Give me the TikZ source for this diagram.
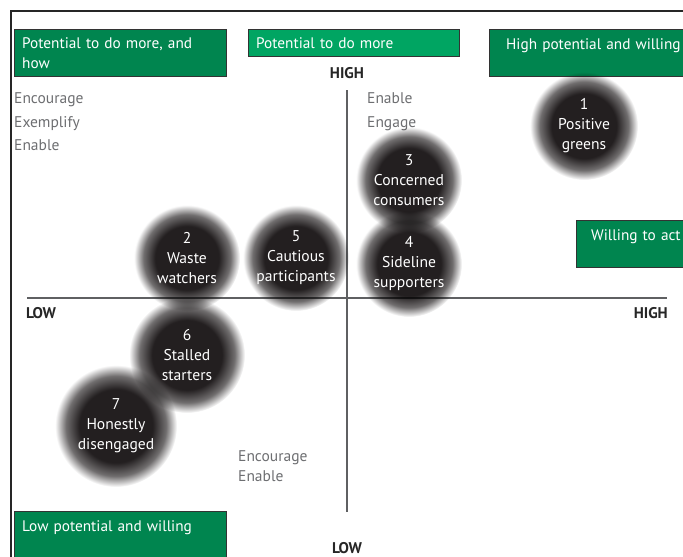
\documentclass[tikz,border=0pt]{standalone}
\usepackage{fontspec}
\setmainfont{PT Sans}
\usetikzlibrary{positioning}

\definecolor{boxgreen}{HTML}{00854F}
\definecolor{lightgreen}{HTML}{00A562}
\definecolor{balldark}{HTML}{231F20}
\definecolor{axisgrey}{HTML}{5F6062}
\definecolor{hintgrey}{HTML}{6D6E71}

\pgfdeclareradialshading{ballshade}{\pgfpointorigin}{color(0bp)=(balldark); color(15bp)=(balldark); color(20.5bp)=(balldark!65); color(25bp)=(white); color(50bp)=(white)}

\tikzset{
  quadbox/.style={draw=black!80, fill=boxgreen, text=white, anchor=north west, align=left,
    inner xsep=8pt, inner ysep=3pt, minimum height=47pt, font=\fontsize{15.3}{20}\selectfont},
  oneline/.style={font=\fontsize{15.3}{14}\selectfont},
  hint/.style={text=hintgrey, anchor=base west, inner sep=0pt, font=\fontsize{15.5}{17}\selectfont},
  axislabel/.style={text=black!85, inner sep=0pt, font=\bfseries\fontsize{15.5}{16}\selectfont},
  ball/.style={circle, minimum size=#1, inner sep=0pt, shading=ballshade},
  balltext/.style={text=white, align=center, inner sep=0pt, font=\fontsize{15.6}{20}\selectfont},
}

\begin{document}
\begin{tikzpicture}[x=1pt,y=-1pt]
  \useasboundingbox (0,0) rectangle (683,557);
  \clip (0,0) rectangle (683,557);
  % frame
  \draw[black!85, line width=1.2pt] (11,557) -- (11,11) -- (683,11);

  % axes
  \coordinate (ytop) at (347,90);
  \coordinate (ybot) at (347,512);
  \coordinate (xleft) at (27,298);
  \coordinate (xright) at (667,298);
  \draw[axisgrey, line width=1.4pt] (ytop) -- (ybot);
  \draw[axisgrey, line width=1.4pt] (xleft) -- (xright);
  \node[axislabel, anchor=base] (yhigh) at (347,78) {HIGH};
  \node[axislabel, anchor=base] (ylow) at (347,553) {LOW};
  \node[axislabel, anchor=base west] (xlow) at (26,318) {LOW};
  \node[axislabel, anchor=base east] (xhigh) at (668,318) {HIGH};

  % quadrant boxes
  \node[quadbox, text width=196pt] (howbox) at (14,29) {Potential to do more, and\\how};
  \node[quadbox, fill=lightgreen, text width=195pt, minimum height=27pt] (morebox) at (248,29) {Potential to do more};
  \node[quadbox, oneline, text width=200pt, inner xsep=17pt] (highbox) at (489,29) {High potential and willing\\\strut};
  \node[quadbox, oneline, text width=110pt, inner xsep=15pt] (actbox) at (576,220) {Willing to act\\\strut};
  \node[quadbox, oneline, text width=196pt] (lowbox) at (14,511) {Low potential and willing\\\strut};

  % hints
  \node[hint] (encourage) at (14,103) {Encourage};
  \node[hint] (exemplify) at (14,127) {Exemplify};
  \node[hint] (enable) at (14,150) {Enable};
  \node[hint] (enable2) at (367,103) {Enable};
  \node[hint] (engage) at (367,127) {Engage};
  \node[hint] (encourage3) at (238,461) {Encourage};
  \node[hint] (enable3) at (238,481) {Enable};

  % segments
  \begin{scope}[blend mode=multiply]
    \node[ball=108pt] (greens) at (584,126) {};
    \node[ball=106pt] (waste) at (187,258) {};
    \node[ball=106pt] (cautious) at (296,258) {};
    \node[ball=106pt] (concerned) at (409,180) {};
    \node[ball=106pt] (sideline) at (409,264) {};
    \node[ball=116pt] (stalled) at (187,355) {};
    \node[ball=122pt] (disengaged) at (116,426) {};
  \end{scope}
  \node[balltext] (greenstext) at (greens) {1\\Positive\\greens};
  \node[balltext] (wastetext) at (waste) {2\\Waste\\watchers};
  \node[balltext] (cautioustext) at (cautious) {5\\Cautious\\participants};
  \node[balltext] (concernedtext) at (concerned) {3\\Concerned\\consumers};
  \node[balltext] (sidelinetext) at (sideline) {4\\Sideline\\supporters};
  \node[balltext] (stalledtext) at (stalled) {6\\Stalled\\starters};
  \node[balltext] (disengagedtext) at (disengaged) {7\\Honestly\\disengaged};
\end{tikzpicture}
\end{document}
